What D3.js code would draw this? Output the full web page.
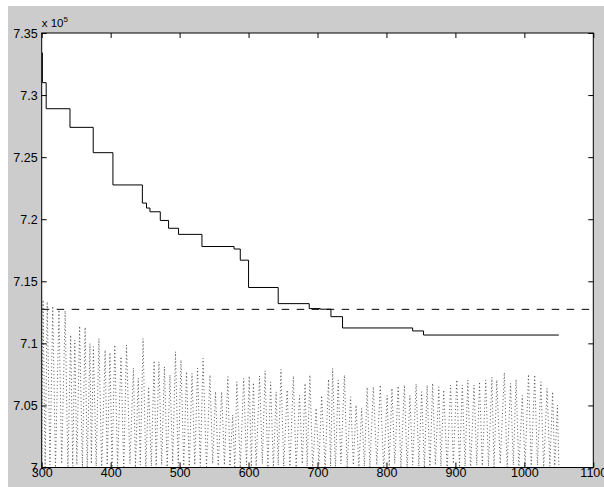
<!DOCTYPE html>
<html lang="en">
<head>
  <meta charset="UTF-8" />
  <title>Best value vs iteration</title>
  <script src="https://d3js.org/d3.v7.min.js"></script>
  <style>
    body { margin: 0; background-color: white; }
    text { font-family: "Liberation Sans", Arial, sans-serif; }
  </style>
</head>
<body>
<div id="my_dataviz"></div>
<script>
// values are in units of 1e5 (see the "x 10^5" label)

// best value so far (stairs)
var bestX = [300, 301, 306.5, 341, 374.7, 403.3, 446, 452, 457, 472, 484, 498.4, 532.4,
             579, 588, 600, 643, 688, 704, 719.5, 736.3, 838, 853.8, 1050];
var bestY = [7.334, 7.310, 7.289, 7.274, 7.2536, 7.2276, 7.213, 7.209, 7.206, 7.199, 7.1927, 7.1878, 7.178,
             7.176, 7.167, 7.145, 7.132, 7.128, 7.1275, 7.1215, 7.1124, 7.110, 7.1067, 7.1067];

// reference level (dashed)
var refLevel = 7.1274;

// current value trace (dotted): peaks and dips
var peakX = [302,308,316,325,334,342,348,355,363,370,
             375,383,392,399,406,415,423,433,440,447,
             455,463,470,478,486,494,502,510,518,526,
             534,544,552,561,570,577,583,593,601,607,
             616,624,632,640,647,656,665,674,682,689,
             698,706,716,722,730,739,748,756,764,772,
             781,791,801,808,817,826,834,843,851,859,
             867,876,883,893,902,910,918,927,935,944,
             953,960,971,980,988,997,1006,1015,1024,1033,
             1041,1048];
var peakY = [7.135,7.1335,7.130,7.127,7.1263,7.1067,7.1027,7.114,7.113,7.100,
             7.0973,7.104,7.0946,7.0925,7.0987,7.0893,7.0987,7.0801,7.072,7.104,
             7.065,7.086,7.0852,7.0812,7.0745,7.0933,7.0866,7.0772,7.0759,7.080,
             7.088,7.0745,7.0611,7.061,7.0732,7.0423,7.0691,7.0718,7.0737,7.0683,
             7.0737,7.078,7.069,7.061,7.079,7.0624,7.0737,7.058,7.0678,7.0745,
             7.0477,7.058,7.071,7.0799,7.0705,7.0745,7.057,7.0503,7.0477,7.0646,
             7.065,7.0664,7.058,7.0638,7.0656,7.0664,7.058,7.0673,7.061,7.0664,
             7.0678,7.065,7.0624,7.0664,7.0705,7.0664,7.0705,7.0664,7.069,7.0705,
             7.0727,7.0705,7.0764,7.0678,7.071,7.058,7.075,7.0745,7.069,7.0638,
             7.061,7.0503];
var dipX = [300,305,312,320,329,338,345,351,359,366,
            372,379,387,395,402,410,419,428,436,443,
            451,459,466,474,482,490,498,506,514,522,
            530,539,548,556,565,573,580,588,597,604,
            611,620,628,636,643,651,660,669,678,685,
            693,702,711,719,726,734,743,752,760,768,
            776,786,796,804,812,821,830,838,847,855,
            863,871,879,888,897,906,914,922,931,939,
            948,956,965,975,984,992,1001,1010,1019,1028,
            1037,1044,1050];
var dipY = [7.001,6.999,7.002,7.000,7.003,6.998,7.001,7.002,6.999,7.000,
            7.003,7.001,6.998,7.002,7.000,7.001,6.999,7.003,7.000,7.002,
            6.998,7.001,7.000,7.002,6.999,7.003,7.001,7.000,6.998,7.002,
            7.001,6.999,7.003,7.000,7.002,7.001,6.998,7.000,7.002,6.999,
            7.001,7.003,7.000,6.999,7.002,7.001,6.998,7.000,7.003,7.001,
            6.999,7.002,7.000,7.001,6.998,7.003,7.000,7.002,6.999,7.001,
            7.000,7.002,6.998,7.001,7.003,7.000,6.999,7.002,7.001,7.000,
            6.998,7.002,7.001,6.999,7.003,7.000,7.001,6.998,7.002,7.000,
            7.001,6.999,7.003,7.000,7.002,6.998,7.001,7.000,7.002,6.999,
            7.001,7.000,7.002];

var xTicks = [300, 400, 500, 600, 700, 800, 900, 1000, 1100];
var yTicks = [7, 7.05, 7.1, 7.15, 7.2, 7.25, 7.3, 7.35];

// dimensions
var W = 604, H = 487;
var margin = {top: 33, right: 10.7, bottom: 19.5, left: 41.7},
    width = W - margin.left - margin.right,
    height = H - margin.top - margin.bottom;

var root = d3.select("#my_dataviz")
  .append("svg")
    .attr("width", W)
    .attr("height", H);

// figure background
root.append("rect")
  .attr("x", 8).attr("y", 6)
  .attr("width", W - 8).attr("height", H - 6)
  .style("fill", "#cccccc");

var svg = root.append("g")
  .attr("transform", "translate(" + margin.left + "," + margin.top + ")");

svg.append("rect")
  .attr("width", width).attr("height", height)
  .style("fill", "white");

svg.append("clipPath").attr("id", "clip")
  .append("rect").attr("width", width).attr("height", height);

var x = d3.scaleLinear().domain([300, 1100]).range([0, width]);
var y = d3.scaleLinear().domain([7, 7.35]).range([height, 0]);

// dotted trace
var trace = [];
for (var i = 0; i < peakX.length; i++) {
  trace.push([dipX[i], dipY[i]]);
  trace.push([peakX[i], peakY[i]]);
}
trace.push([dipX[dipX.length - 1], dipY[dipY.length - 1]]);

var plot = svg.append("g").attr("clip-path", "url(#clip)");

plot.append("path")
  .datum(trace)
  .attr("d", d3.line().x(function(d){ return x(d[0]); }).y(function(d){ return y(d[1]); }))
  .style("fill", "none")
  .style("stroke", "#444")
  .style("stroke-width", 0.9)
  .style("stroke-dasharray", "1,2.5");

// dashed reference line
plot.append("line")
  .attr("x1", 0).attr("x2", width)
  .attr("y1", y(refLevel)).attr("y2", y(refLevel))
  .style("stroke", "black")
  .style("stroke-width", 1)
  .style("stroke-dasharray", "7.5,7.5");

// best-so-far stairs
var best = bestX.map(function(v, k){ return [v, bestY[k]]; });
plot.append("path")
  .datum(best)
  .attr("d", d3.line().curve(d3.curveStepAfter)
      .x(function(d){ return x(d[0]); }).y(function(d){ return y(d[1]); }))
  .style("fill", "none")
  .style("stroke", "black")
  .style("stroke-width", 1);

// axes, ticks inward on all four sides
function styleAxis(g) {
  g.select(".domain").remove();
  g.selectAll(".tick line").attr("stroke", "black");
  g.selectAll(".tick text")
    .attr("fill", "black")
    .style("font-size", "12.5px")
    .style("font-family", "'Liberation Sans', Arial, sans-serif");
}

svg.append("g")
  .attr("transform", "translate(0," + height + ")")
  .call(d3.axisBottom(x).tickValues(xTicks).tickSizeInner(-5).tickSizeOuter(0).tickPadding(1)
        .tickFormat(d3.format("d")))
  .call(styleAxis);

svg.append("g")
  .call(d3.axisTop(x).tickValues(xTicks).tickSizeInner(-5).tickSizeOuter(0).tickFormat(""))
  .call(styleAxis);

svg.append("g")
  .call(d3.axisLeft(y).tickValues(yTicks).tickSizeInner(-5).tickSizeOuter(0).tickPadding(4)
        .tickFormat(function(d){ return d3.format("")(+d.toFixed(2)); }))
  .call(styleAxis);

svg.append("g")
  .attr("transform", "translate(" + width + ",0)")
  .call(d3.axisRight(y).tickValues(yTicks).tickSizeInner(-5).tickSizeOuter(0).tickFormat(""))
  .call(styleAxis);

// axes box
svg.append("rect")
  .attr("width", width).attr("height", height)
  .style("fill", "none")
  .style("stroke", "black")
  .style("stroke-width", 1);

// exponent label
var ex = svg.append("text")
  .attr("x", 0)
  .attr("y", -6)
  .style("font-size", "11.5px")
  .attr("fill", "black");
ex.append("tspan").text("x 10");
ex.append("tspan").attr("dy", -5).style("font-size", "8px").text("5");
</script>
</body>
</html>
